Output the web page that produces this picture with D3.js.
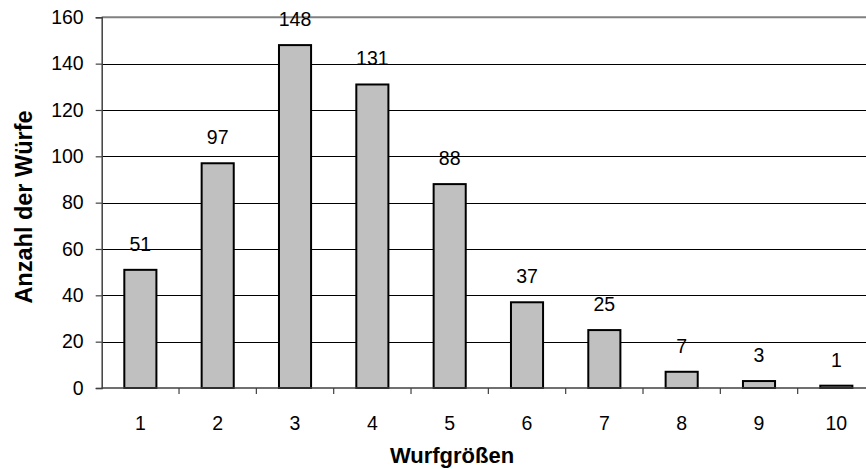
<!DOCTYPE html>
<html><head><meta charset="utf-8">
<script src="https://cdn.jsdelivr.net/npm/d3@7"></script>
<style>body{margin:0;background:#fff}svg{display:block}</style>
</head><body>
<svg id="c" width="866" height="469"></svg>
<script>
const categories = ["1","2","3","4","5","6","7","8","9","10"];
const values = [51,97,148,131,88,37,25,7,3,1];
const yTicks = [0,20,40,60,80,100,120,140,160];
const xTitle = "Wurfgrößen";
const yTitle = "Anzahl der Würfe";

const svg = d3.select("#c");
const L = 101.7, R = 875, T = 17.3, B = 388;
const font = "'Liberation Sans', Arial, sans-serif";

const x = d3.scaleBand().domain(categories).range([L, R]).paddingInner(0.585).paddingOuter(0.2925);
const y = d3.scaleLinear().domain([0,160]).range([B, T]);

// gridlines
svg.append("g").selectAll("line").data(yTicks.filter(d => d > 0 && d < 160)).join("line")
  .attr("x1", L).attr("x2", 866).attr("y1", d => Math.round(y(d)) + 0.5).attr("y2", d => Math.round(y(d)) + 0.5)
  .attr("stroke", "#000").attr("stroke-width", 1);
// top border
svg.append("line").attr("x1", L).attr("x2", 866).attr("y1", y(160)).attr("y2", y(160))
  .attr("stroke", "#808080").attr("stroke-width", 2);

// y axis
const yAxis = svg.append("g").attr("transform", `translate(${L},0)`)
  .call(d3.axisLeft(y).tickValues(yTicks).tickSize(6).tickPadding(12).tickFormat(d3.format("d")));
yAxis.select(".domain").attr("stroke", "#404040").attr("stroke-width", 1.5);
yAxis.selectAll(".tick line").attr("stroke", "#404040").attr("stroke-width", 1.2);
yAxis.selectAll("text").attr("font-family", font).attr("font-size", 19.5).attr("fill", "#000");

// bars
svg.append("g").selectAll("rect").data(values).join("rect")
  .attr("x", (d,i) => x(categories[i]))
  .attr("width", x.bandwidth())
  .attr("y", d => y(d))
  .attr("height", d => y(0) - y(d))
  .attr("fill", "#c0c0c0").attr("stroke", "#000").attr("stroke-width", 2);

// x axis
const step = x.step();
const xAxis = svg.append("g").attr("transform", `translate(0,${B})`);
xAxis.append("line").attr("x1", L).attr("x2", 866).attr("stroke", "#404040").attr("stroke-width", 1.5);
xAxis.selectAll("line.t").data(d3.range(1, categories.length)).join("line").attr("class","t")
  .attr("x1", i => L + i*step).attr("x2", i => L + i*step).attr("y1", 0).attr("y2", 6)
  .attr("stroke", "#404040").attr("stroke-width", 1.2);
xAxis.selectAll("text").data(categories).join("text")
  .attr("x", d => x(d) + x.bandwidth()/2).attr("y", 42)
  .attr("text-anchor", "middle").attr("font-family", font).attr("font-size", 19.5).text(d => d);

// value labels
svg.append("g").selectAll("text").data(values).join("text")
  .attr("x", (d,i) => x(categories[i]) + x.bandwidth()/2)
  .attr("y", d => y(d) - 19)
  .attr("text-anchor", "middle").attr("font-family", font).attr("font-size", 19.5).text(d => d);

// titles
svg.append("text").attr("x", 452).attr("y", 462.5).attr("text-anchor", "middle")
  .attr("font-family", font).attr("font-weight", "bold").attr("font-size", 22).text(xTitle);
svg.append("text").attr("transform", "translate(32,207) rotate(-90)").attr("text-anchor", "middle")
  .attr("font-family", font).attr("font-weight", "bold").attr("font-size", 23.5).text(yTitle);
</script>
</body></html>
